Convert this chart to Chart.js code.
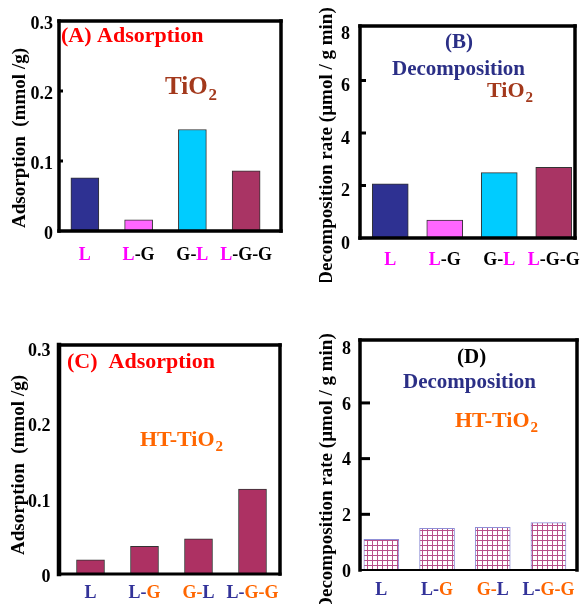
<!DOCTYPE html>
<html><head><meta charset="utf-8">
<script src="https://cdn.jsdelivr.net/npm/chart.js@4.4.0/dist/chart.umd.min.js"></script>
<style>
html,body{margin:0;padding:0;background:#fff;width:585px;height:604px;overflow:hidden;position:relative}
canvas{position:absolute;display:block}
</style></head><body>
<canvas id="cA" width="292" height="300" style="left:0;top:0"></canvas>
<canvas id="cB" width="293" height="282" style="left:292px;top:0"></canvas>
<canvas id="cC" width="292" height="304" style="left:0;top:300px"></canvas>
<canvas id="cD" width="293" height="304" style="left:292px;top:300px"></canvas>
<script>
// ---- data ----
const categories = ['L', 'L-G', 'G-L', 'L-G-G'];
const adsorptionTiO2 = [0.076, 0.016, 0.145, 0.086];
const decompositionTiO2 = [2.06, 0.68, 2.49, 2.69];
const adsorptionHT = [0.019, 0.037, 0.047, 0.113];
const decompositionHT = [1.10, 1.50, 1.53, 1.70];
const adsTicks = [0, 0.1, 0.2, 0.3];
const adsTickLabels = ['0', '0.1', '0.2', '0.3'];
const decTicks = [0, 2, 4, 6, 8];
const decTickLabels = ['0', '2', '4', '6', '8'];
const adsTitle = 'Adsorption  (mmol /g)';
const decTitle = 'Decomposition rate (\u00B5mol / g min)';

const SERIF = '"Liberation Serif", "Times New Roman", serif';
const tiColors = ['#2e3192', '#ff66ff', '#00ccff', '#a93464'];

function hatch() {
  const c = document.createElement('canvas'); c.width = 5; c.height = 5;
  const g = c.getContext('2d');
  g.fillStyle = '#fff'; g.fillRect(0, 0, 5, 5);
  g.fillStyle = '#b8508a'; g.fillRect(0, 0, 5, 1); g.fillRect(0, 0, 1, 5);
  return g.createPattern(c, 'repeat');
}

const colorAB = (ch, prev) => ch === 'L' ? '#ff00ff' : '#000000';
const colorCD = (ch, prev) => ch === 'L' ? '#333399' : ch === 'G' ? '#ff6600' : prev;

const framePlugin = {
  id: 'frame',
  afterDatasetsDraw(chart, args, o) {
    const { ctx, chartArea: a } = chart;
    const y = chart.scales.y, x = chart.scales.x;
    const L = a.left + o.l, R = a.right + o.r, T = a.top + o.t, B = a.bottom + o.b;
    ctx.save();
    ctx.strokeStyle = '#000';
    // inward tick marks
    if (o.tickLen) {
      ctx.lineWidth = 3;
      const n = y.ticks.length;
      y.ticks.forEach((t, i) => {
        if (i === 0 || i === n - 1) return;
        const py = y.getPixelForValue(t.value);
        ctx.beginPath(); ctx.moveTo(L, py); ctx.lineTo(L + o.tickLen, py); ctx.stroke();
      });
    }
    // frame
    ctx.lineCap = 'square';
    const seg = (x1, y1, x2, y2, w) => { ctx.lineWidth = w; ctx.beginPath(); ctx.moveTo(x1, y1); ctx.lineTo(x2, y2); ctx.stroke(); };
    seg(L, T, R, T, o.w[0]); seg(R, T, R, B, o.w[1]); seg(L, B, R, B, o.w[2]); seg(L, T, L, B, o.w[3]);
    // x labels, coloured per letter
    ctx.font = 'bold 18px ' + SERIF;
    ctx.textBaseline = 'alphabetic';
    ctx.textAlign = 'left';
    chart.data.labels.forEach((lab, i) => {
      const cx = x.getPixelForValue(i);
      const w = ctx.measureText(lab).width;
      let px = cx - w / 2, prev = '#000';
      for (const ch of lab) {
        const col = o.labelColor(ch, prev); prev = col;
        ctx.fillStyle = col; ctx.fillText(ch, px, o.labelY);
        px += ctx.measureText(ch).width;
      }
    });
    // annotations
    o.notes.forEach(n => {
      ctx.font = 'bold ' + n.size + 'px ' + SERIF;
      ctx.fillStyle = n.color;
      ctx.fillText(n.text, n.x, n.y);
      if (n.sub) {
        const w = ctx.measureText(n.text).width;
        ctx.font = 'bold ' + Math.round(n.size * 0.68) + 'px ' + SERIF;
        ctx.fillText(n.sub, n.x + w + 1, n.y + n.size * 0.22);
      }
    });
    // y title
    ctx.save();
    ctx.translate(o.title.x, o.title.y);
    ctx.rotate(-Math.PI / 2);
    ctx.font = 'bold ' + o.title.size + 'px ' + SERIF;
    ctx.fillStyle = '#000';
    ctx.textAlign = 'center'; ctx.textBaseline = 'middle';
    ctx.fillText(o.title.text, 0, 0);
    ctx.restore();
    ctx.restore();
  }
};

function makeChart(id, c) {
  const axisW = c.pad.left;
  return new Chart(document.getElementById(id), {
    type: 'bar',
    data: {
      labels: categories,
      datasets: [{
        data: c.values, backgroundColor: c.colors, borderColor: c.border,
        borderWidth: 1, barThickness: c.barW, borderSkipped: false
      }]
    },
    options: {
      responsive: false, animation: false, devicePixelRatio: 1,
      layout: { padding: { left: 0, right: c.pad.right, top: c.pad.top, bottom: c.pad.bottom } },
      plugins: { legend: { display: false }, tooltip: { enabled: false }, frame: c.frame },
      scales: {
        x: {
          grid: { display: false, drawTicks: false }, border: { display: false },
          ticks: { display: false }, afterFit: s => { s.height = 0; }
        },
        y: {
          min: 0, max: c.max,
          grid: { display: false, drawTicks: false }, border: { display: false },
          afterFit: s => { s.width = axisW; },
          afterBuildTicks: s => { s.ticks = c.ticks.map(v => ({ value: v })); },
          ticks: {
            callback: (v, i) => c.tickLabels[i],
            font: { family: SERIF, weight: 'bold', size: 18 }, color: '#000',
            padding: c.tickPad, labelOffset: c.labelOff
          }
        }
      }
    },
    plugins: [framePlugin]
  });
}

// (A)
makeChart('cA', {
  values: adsorptionTiO2, colors: tiColors, border: '#333', barW: 28,
  pad: { left: 58, right: 19, top: 21, bottom: 69 }, max: 0.3,
  ticks: adsTicks, tickLabels: adsTickLabels, tickPad: 5, labelOff: 3,
  frame: {
    l: 1, r: 8, t: 0, b: 0, w: [3.5, 3.5, 3.5, 3.5], tickLen: 4,
    labelY: 260, labelColor: colorAB,
    notes: [
      { text: '(A) Adsorption', x: 61, y: 42, size: 22, color: '#ff0000' },
      { text: 'TiO', sub: '2', x: 165, y: 94, size: 25, color: '#a3391c' }
    ],
    title: { text: adsTitle, x: 20, y: 138, size: 19 }
  }
});

// (B)
makeChart('cB', {
  values: decompositionTiO2, colors: tiColors, border: '#333', barW: 36,
  pad: { left: 71, right: 4, top: 28, bottom: 44 }, max: 8,
  ticks: decTicks, tickLabels: decTickLabels, tickPad: 13, labelOff: 6,
  frame: {
    l: -3, r: -6, t: -2, b: 0, w: [3.5, 3.5, 3.5, 3.5], tickLen: 6,
    labelY: 265, labelColor: colorAB,
    notes: [
      { text: '(B)', x: 153, y: 48, size: 21, color: '#2b2f86' },
      { text: 'Decomposition', x: 100, y: 75, size: 21, color: '#2b2f86' },
      { text: 'TiO', sub: '2', x: 195, y: 97, size: 22, color: '#a3391c' }
    ],
    title: { text: decTitle, x: 35, y: 146, size: 19 }
  }
});

// (C)
makeChart('cC', {
  values: adsorptionHT, colors: '#ad3163', border: '#333', barW: 28,
  pad: { left: 63.5, right: 12.5, top: 45, bottom: 30 }, max: 0.305,
  ticks: adsTicks, tickLabels: adsTickLabels, tickPad: 13, labelOff: 3,
  frame: {
    l: -4.5, r: 0.5, t: 0, b: 0, w: [3.5, 3.5, 3, 4.5], tickLen: 0,
    labelY: 298, labelColor: colorCD,
    notes: [
      { text: '(C)  Adsorption', x: 67, y: 68, size: 22, color: '#ff0000' },
      { text: 'HT-TiO', sub: '2', x: 140, y: 146, size: 22, color: '#ff6600' }
    ],
    title: { text: adsTitle, x: 19, y: 165, size: 19 }
  }
});

// (D)
makeChart('cD', {
  values: decompositionHT, colors: hatch(), border: '#8f8fd6', barW: 35,
  pad: { left: 61.5, right: 8.7, top: 40, bottom: 34 }, max: 8.26,
  ticks: decTicks, tickLabels: decTickLabels, tickPad: 2.5, labelOff: 2,
  frame: {
    l: 6.5, r: 0.7, t: 0, b: 0, w: [3.5, 3.5, 2, 3.5], tickLen: 10,
    labelY: 295, labelColor: colorCD,
    notes: [
      { text: '(D)', x: 165, y: 63, size: 21, color: '#000000' },
      { text: 'Decomposition', x: 111, y: 88, size: 21, color: '#2b2f86' },
      { text: 'HT-TiO', sub: '2', x: 163, y: 127, size: 22, color: '#ff6600' }
    ],
    title: { text: decTitle, x: 35, y: 172, size: 19 }
  }
});
</script>
</body></html>
